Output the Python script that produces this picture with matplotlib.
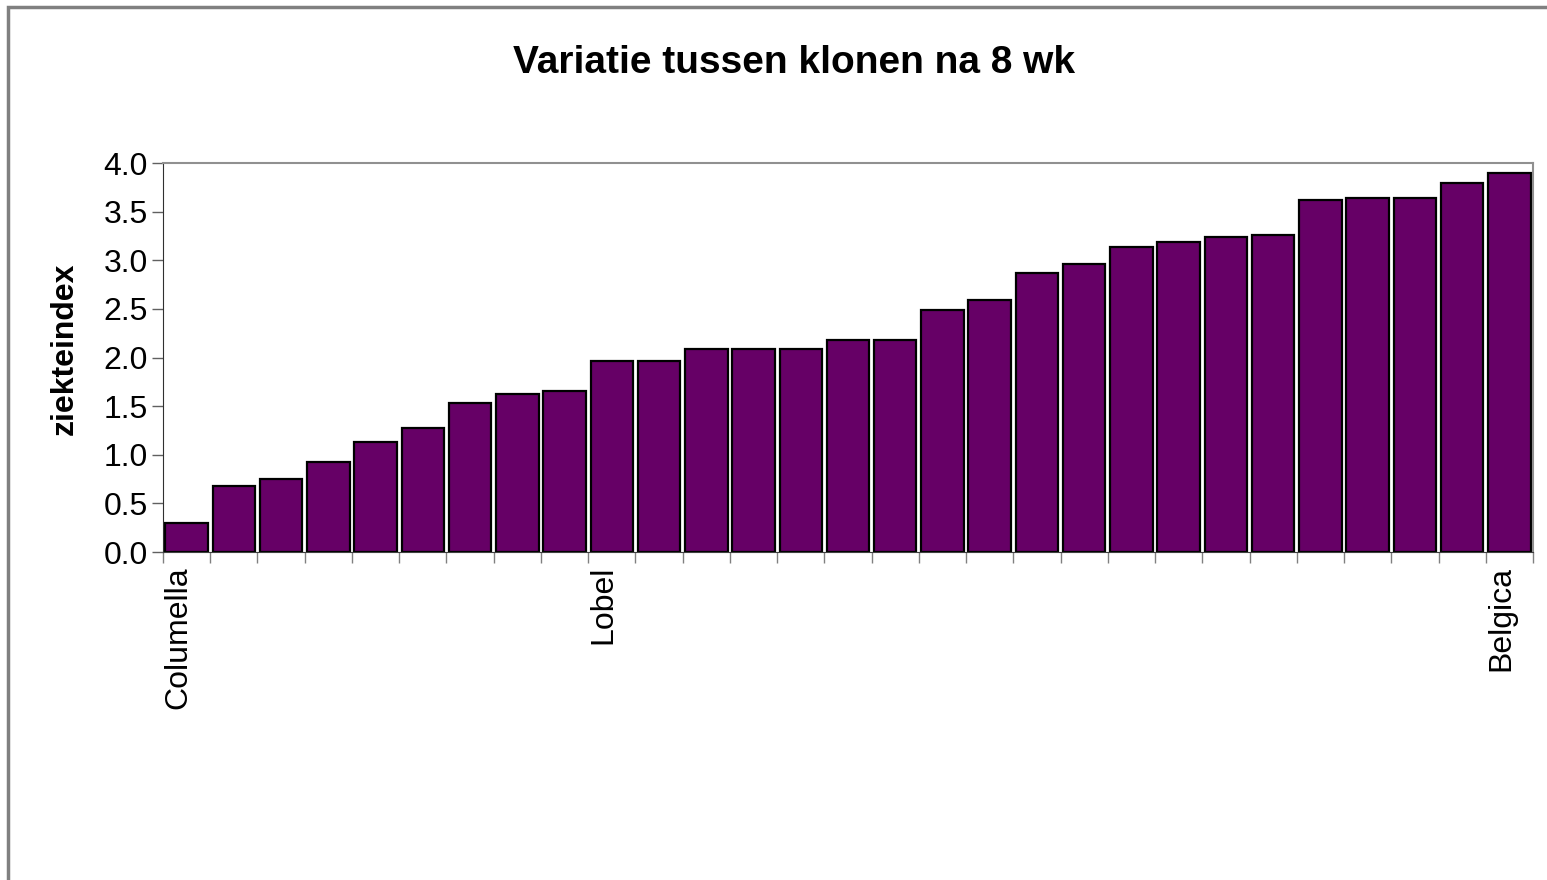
import numpy as np
import matplotlib.pyplot as plt
import matplotlib.transforms as mtransforms
from matplotlib.patches import Rectangle

plt.rcParams['font.family'] = ['Liberation Sans', 'DejaVu Sans']

# klonen, gesorteerd op ziekteindex (alleen 3 namen staan op de as)
klonen = ["Columella"] + [""] * 8 + ["Lobel"] + [""] * 18 + ["Belgica"]
ziekteindex = [0.30, 0.68, 0.75, 0.93, 1.13, 1.28, 1.53, 1.62, 1.66, 1.96,
               1.96, 2.09, 2.09, 2.09, 2.18, 2.18, 2.49, 2.59, 2.87, 2.96,
               3.14, 3.19, 3.24, 3.26, 3.62, 3.64, 3.64, 3.79, 3.90]
yticks = [0.0, 0.5, 1.0, 1.5, 2.0, 2.5, 3.0, 3.5, 4.0]

fig = plt.figure(figsize=(15.47, 8.80), dpi=100)
ax = fig.add_axes([163/1547, 1 - 552/880, (1533 - 163)/1547, (552 - 163)/880])

x = np.arange(len(ziekteindex))
ax.bar(x, ziekteindex, width=0.9, color="#660066", edgecolor="black", linewidth=1.6)

ax.set_xlim(-0.5, len(ziekteindex) - 0.5)
ax.set_ylim(0, 4.0)
ax.set_yticks(yticks)
ax.set_yticklabels([f"{v:.1f}" for v in yticks], fontsize=23)
ax.tick_params(axis="y", direction="out", length=8, width=1, color="#606060", pad=3)

ax.set_xticks(x)
ax.set_xticklabels(klonen, rotation=90, fontsize=23, va="top", ha="center")
ax.tick_params(axis="x", which="major", length=0, pad=10)
# labels iets naar links, zoals in het origineel
shift = mtransforms.ScaledTranslation(-8/100, 0, fig.dpi_scale_trans)
for lab in ax.get_xticklabels():
    lab.set_transform(lab.get_transform() + shift)
ax.set_xticks(np.arange(len(ziekteindex) + 1) - 0.5, minor=True)
ax.tick_params(axis="x", which="minor", direction="out", length=8, width=1, color="#808080")

for s in ["top", "right"]:
    ax.spines[s].set_color("#909090")
    ax.spines[s].set_linewidth(1.5)
ax.spines["left"].set_color("#303030")
ax.spines["bottom"].set_color("#404040")

ax.set_ylabel("ziekteindex", fontsize=23, fontweight="bold")
ax.yaxis.set_label_coords(-0.061, 0.522)
fig.text(794/1547, 1 - 73/880, "Variatie tussen klonen na 8 wk", fontsize=28,
         fontweight="bold", ha="center", va="baseline")

# grijze kader rond de grafiek
fig.patches.append(Rectangle((8/1547, -0.1), 1.2, 1 - 7/880 + 0.1, transform=fig.transFigure,
                             fill=False, edgecolor="#808080", linewidth=2.5))

fig.savefig("out.png", dpi=100)
